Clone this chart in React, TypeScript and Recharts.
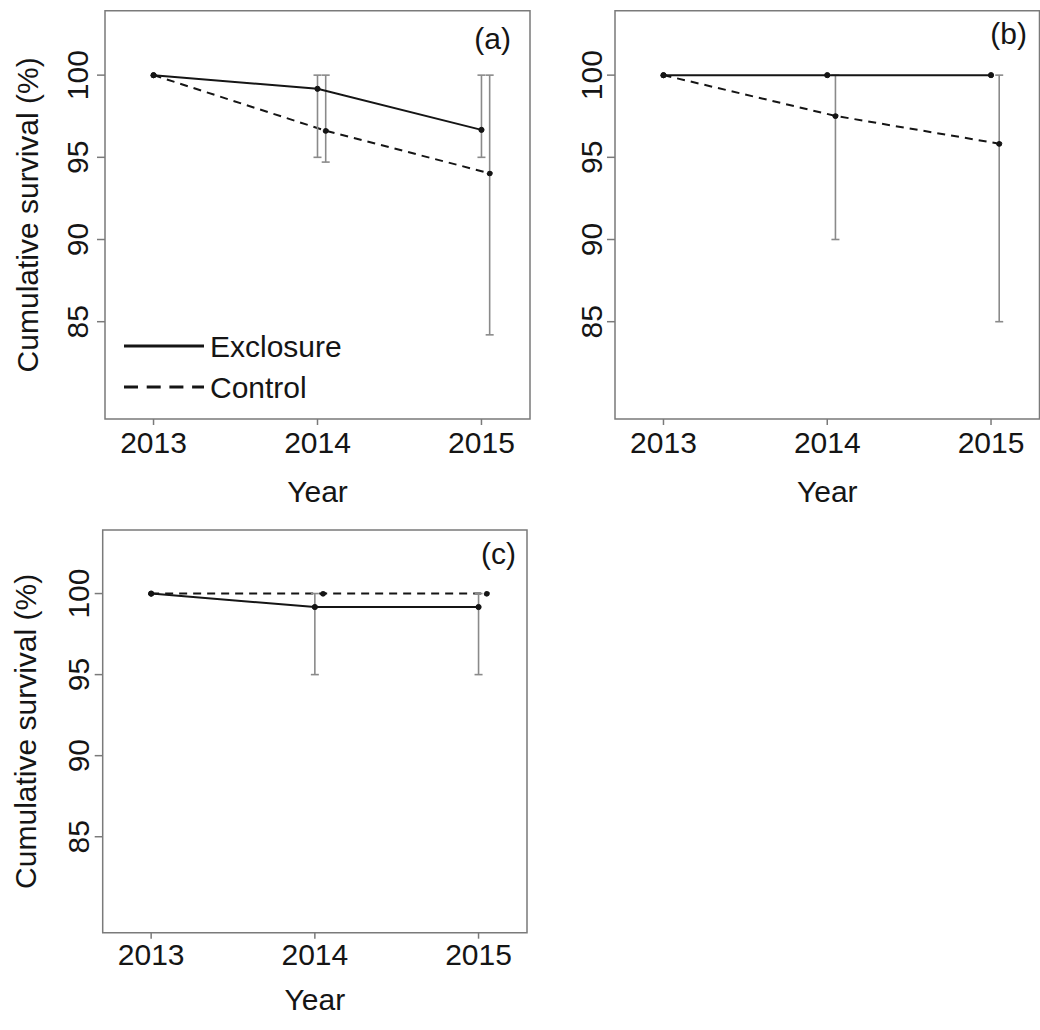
import React from 'react';
import { ComposedChart, Line, XAxis, YAxis, ErrorBar, ReferenceArea, Legend } from 'recharts';

const FONT = '"Liberation Sans", Arial, Helvetica, sans-serif';
const INK = '#151515';
const FRAME = '#7a7a7a';
const WHISKER = '#8a8a8a';

const years = [2013, 2014, 2015];
const controlYears = [2013, 2014.05, 2015.05];
const yTicks = [85, 90, 95, 100];
const xDomain = [2012.704, 2015.296];
const yDomain = [79.08, 103.92];
const seriesNames = ['Exclosure', 'Control'];

// (a)
const exclA = [100, 99.17, 96.67];
const exclALow = [null, 95, 95];
const exclAHigh = [null, 100, 100];
const ctrlA = [100, 96.62, 94.03];
const ctrlALow = [null, 94.71, 84.2];
const ctrlAHigh = [null, 100, 100];

// (b)
const exclB = [100, 100, 100];
const ctrlB = [100, 97.52, 95.83];
const ctrlBLow = [null, 90, 85];
const ctrlBHigh = [null, 100, 100];

// (c)
const exclC = [100, 99.17, 99.17];
const exclCLow = [null, 95, 95];
const exclCHigh = [null, 100, 100];
const ctrlC = [100, 100, 100];

type Row = { x: number; y: number; err: number[] | null };

function rows(xs: number[], ys: number[], lo?: (number | null)[], hi?: (number | null)[]): Row[] {
  return xs.map((x, i) => {
    const l = lo ? lo[i] : null;
    const h = hi ? hi[i] : null;
    return { x, y: ys[i], err: l != null && h != null ? [ys[i] - l, h - ys[i]] : null };
  });
}

const YTick = (p: any) => {
  const tx = p.x + 8 - p.gap;
  return (
    <text x={tx} y={p.y} transform={`rotate(-90 ${tx} ${p.y})`} textAnchor="middle"
      fontFamily={FONT} fontSize={30} fill={INK}>
      {p.payload.value}
    </text>
  );
};

const XTick = (p: any) => (
  <text x={p.x} y={p.y + p.dy} textAnchor="middle" fontFamily={FONT} fontSize={30} fill={INK}>
    {p.payload.value}
  </text>
);

const YTitle = (p: any) => {
  const vb = p.viewBox;
  const tx = vb.x + vb.width - 67;
  const ty = vb.y + vb.height / 2;
  return (
    <text x={tx} y={ty} transform={`rotate(-90 ${tx} ${ty})`} textAnchor="middle"
      fontFamily={FONT} fontSize={30} fill={INK}>
      Cumulative survival (%)
    </text>
  );
};

const XTitle = (p: any) => {
  const vb = p.viewBox;
  return (
    <text x={vb.x + vb.width / 2} y={vb.y + p.dy} textAnchor="middle"
      fontFamily={FONT} fontSize={30} fill={INK}>
      Year
    </text>
  );
};

const Tag = (p: any) => {
  const vb = p.viewBox;
  return (
    <text x={vb.x + vb.width - p.dx} y={vb.y + p.dy} textAnchor="end"
      fontFamily={FONT} fontSize={30} fill={INK}>
      {p.text}
    </text>
  );
};

const LegendBox = () => (
  <svg width={230} height={90} style={{ display: 'block' }}>
    <line x1={6} x2={86} y1={24} y2={24} stroke={INK} strokeWidth={3} />
    <text x={92} y={35} fontFamily={FONT} fontSize={30} fill={INK}>{seriesNames[0]}</text>
    <line x1={6} x2={86} y1={65} y2={65} stroke={INK} strokeWidth={3} strokeDasharray="14 8.7" />
    <text x={92} y={76} fontFamily={FONT} fontSize={30} fill={INK}>{seriesNames[1]}</text>
  </svg>
);

type PanelProps = {
  left: number; top: number; width: number; height: number;
  margin: { top: number; right: number; left: number; bottom: number };
  yAxisWidth: number; xAxisHeight: number;
  tag: string; tagDx: number; tagDy: number;
  excl: Row[]; ctrl: Row[];
  yTitle?: boolean; tickGap: number; xTickDy: number; xTitleDy: number;
  legend?: boolean;
};

function Panel(props: PanelProps) {
  const dot = { r: 2.6, fill: INK, stroke: INK, strokeWidth: 1 };
  return (
    <div style={{ position: 'absolute', left: props.left, top: props.top }}>
      <ComposedChart width={props.width} height={props.height} margin={props.margin}>
        <XAxis type="number" dataKey="x" domain={xDomain} ticks={years} allowDataOverflow
          axisLine={false} tickLine={{ stroke: FRAME, strokeWidth: 1.5 }} tickSize={6} tickMargin={0}
          height={props.xAxisHeight} interval={0}
          tick={(p: any) => <XTick {...p} dy={props.xTickDy} />}
          label={<XTitle dy={props.xTitleDy} />} />
        <YAxis type="number" dataKey="y" domain={yDomain} ticks={yTicks} allowDataOverflow
          axisLine={false} tickLine={{ stroke: FRAME, strokeWidth: 1.5 }} tickSize={8} tickMargin={0}
          width={props.yAxisWidth} interval={0}
          tick={(p: any) => <YTick {...p} gap={props.tickGap} />}
          label={props.yTitle ? <YTitle /> : undefined} />
        <ReferenceArea x1={xDomain[0]} x2={xDomain[1]} y1={yDomain[0]} y2={yDomain[1]}
          fill="none" stroke={FRAME} strokeWidth={1.5} ifOverflow="visible"
          label={<Tag text={props.tag} dx={props.tagDx} dy={props.tagDy} />} />
        <Line data={props.ctrl} dataKey="y" name={seriesNames[1]} stroke={INK} strokeWidth={2}
          strokeDasharray="8 6" dot={dot} activeDot={false} isAnimationActive={false}>
          <ErrorBar dataKey="err" width={4} stroke={WHISKER} strokeWidth={1.6} direction="y"
            isAnimationActive={false} />
        </Line>
        <Line data={props.excl} dataKey="y" name={seriesNames[0]} stroke={INK} strokeWidth={2}
          dot={dot} activeDot={false} isAnimationActive={false}>
          <ErrorBar dataKey="err" width={4} stroke={WHISKER} strokeWidth={1.6} direction="y"
            isAnimationActive={false} />
        </Line>
        {props.legend && (
          <Legend layout="vertical" align="center" verticalAlign="middle"
            wrapperStyle={{ left: 118, top: 322, width: 230, height: 90 }}
            content={() => <LegendBox />} />
        )}
      </ComposedChart>
    </div>
  );
}

export default function App() {
  return (
    <div style={{ position: 'absolute', left: 0, top: 0, width: 1040, height: 1030, background: '#fff', fontFamily: FONT }}>
      <Panel left={0} top={0} width={540} height={510}
        margin={{ top: 10.7, right: 10, left: 0, bottom: 0 }} yAxisWidth={105} xAxisHeight={91}
        tag="(a)" tagDx={19} tagDy={38}
        excl={rows(years, exclA, exclALow, exclAHigh)}
        ctrl={rows(controlYears, ctrlA, ctrlALow, ctrlAHigh)}
        yTitle tickGap={17} xTickDy={28} xTitleDy={83} legend />
      <Panel left={540} top={0} width={500} height={510}
        margin={{ top: 10.7, right: 0.5, left: 0, bottom: 0 }} yAxisWidth={75} xAxisHeight={91}
        tag="(b)" tagDx={12.5} tagDy={33}
        excl={rows(years, exclB)}
        ctrl={rows(controlYears, ctrlB, ctrlBLow, ctrlBHigh)}
        tickGap={13} xTickDy={28} xTitleDy={83} />
      <Panel left={0} top={520} width={540} height={510}
        margin={{ top: 10, right: 13, left: 0, bottom: 0 }} yAxisWidth={102.7} xAxisHeight={97.3}
        tag="(c)" tagDx={11} tagDy={34}
        excl={rows(years, exclC, exclCLow, exclCHigh)}
        ctrl={rows(controlYears, ctrlC)}
        yTitle tickGap={14} xTickDy={26} xTitleDy={77} />
    </div>
  );
}
